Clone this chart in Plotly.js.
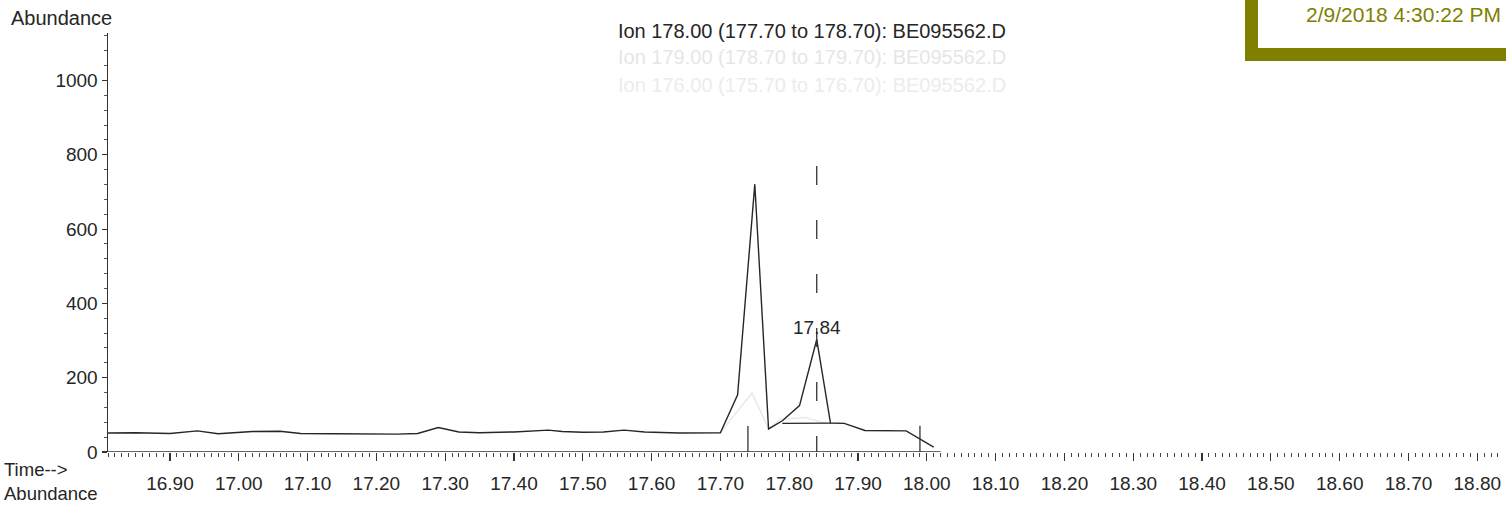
<!DOCTYPE html>
<html>
<head>
<meta charset="utf-8">
<script src="https://cdn.plot.ly/plotly-3.0.1.min.js"></script>
<style>
html,body{margin:0;padding:0;background:#fff;overflow:hidden;width:1506px;height:506px}
#chart{position:absolute;left:0;top:0;width:1506px;height:506px}
#stampBox{position:absolute;left:1245px;top:-20px;width:280px;height:68px;border-left:13px solid #808000;border-bottom:13px solid #808000;background:#fff}
#stampText{position:absolute;left:1306px;top:4px;font-family:"Liberation Sans",Arial,sans-serif;font-size:21px;line-height:22px;color:#808000;white-space:nowrap}
</style>
</head>
<body>
<div id="chart"></div>
<div id="stampBox"></div>
<div id="stampText">2/9/2018 4:30:22 PM</div>
<script>
// Ion 178 chromatogram (time in min, abundance)
const timeMin = [16.81, 16.85, 16.90, 16.94, 16.97, 17.02, 17.06, 17.09, 17.14, 17.19, 17.23, 17.26, 17.29, 17.32, 17.35, 17.40, 17.45, 17.47, 17.50, 17.53, 17.56, 17.59, 17.64, 17.70, 17.725, 17.75, 17.77, 17.79, 17.815, 17.84, 17.86, 17.88, 17.91, 17.97, 18.01];
const abundance = [51, 52, 50, 57, 49, 55, 56, 50, 49, 48, 48, 50, 66, 54, 52, 54, 59, 55, 53, 54, 59, 54, 51, 52, 154, 721, 62, 84, 125, 303, 78, 77, 58, 57, 13];

// faint overlaid ion (179) near the peaks
const ghostTime = [17.70, 17.746, 17.77, 17.787, 17.823, 17.855];
const ghostAbund = [52, 159, 62, 88, 93, 76];

// integration baseline under peak at 17.84
const baseTime = [17.79, 17.86];
const baseAbund = [77, 78];

// integration event ticks and retention-time marker
const eventTimes = [17.74, 17.99];
const eventTops = [70, 71];
const rtTime = 17.84;
const rtTop = 770;
const rtLabel = "17.84";
const axisLineEnd = 18.02;

const titleMain = "Ion 178.00 (177.70 to 178.70): BE095562.D";
const titleGhost = ["Ion 179.00 (178.70 to 179.70): BE095562.D", "Ion 176.00 (175.70 to 176.70): BE095562.D"];

const FONT = '"Liberation Sans", Arial, sans-serif';
const INK = '#262626';

const traces = [
  {x: ghostTime, y: ghostAbund, mode: 'lines', line: {color: '#e8e8e8', width: 1.4}, hoverinfo: 'skip'},
  {x: timeMin, y: abundance, mode: 'lines', line: {color: INK, width: 1.4}},
  {x: baseTime, y: baseAbund, mode: 'lines', line: {color: INK, width: 1.2}}
];

const shapes = [
  {type: 'line', xref: 'x', yref: 'y', x0: timeMin[0], x1: axisLineEnd, y0: 0, y1: 0, line: {color: '#333', width: 1.5}},
  {type: 'line', xref: 'x', yref: 'y', x0: rtTime, x1: rtTime, y0: rtTop, y1: 0, line: {color: '#333', width: 1.3, dash: '19px,35px'}}
];
eventTimes.forEach((t, i) => shapes.push({type: 'line', xref: 'x', yref: 'y', x0: t, x1: t, y0: 0, y1: eventTops[i], line: {color: '#333', width: 1.3}}));

const annotations = [
  {text: rtLabel, x: rtTime, y: abundance[timeMin.indexOf(rtTime)], xref: 'x', yref: 'y', showarrow: false, yanchor: 'middle', yshift: 12, font: {family: FONT, size: 19, color: INK}},
  {text: 'Abundance', xref: 'paper', yref: 'paper', x: -0.0711, y: 1.0358, xanchor: 'left', yanchor: 'middle', showarrow: false, font: {family: FONT, size: 20, color: INK}},
  {text: 'Time--><br>Abundance', align: 'left', borderpad: 0, xref: 'paper', yref: 'paper', x: -0.0754, y: -0.1265, xanchor: 'left', yanchor: 'bottom', showarrow: false, font: {family: FONT, size: 18.5, color: INK}},
  {text: titleGhost[0], xref: 'paper', yref: 'paper', x: 0.5057, y: 0.9427, xanchor: 'center', yanchor: 'middle', showarrow: false, font: {family: FONT, size: 20, color: '#e6e6e6'}},
  {text: titleGhost[1], xref: 'paper', yref: 'paper', x: 0.5057, y: 0.8759, xanchor: 'center', yanchor: 'middle', showarrow: false, font: {family: FONT, size: 20, color: '#ececec'}}
];

const layout = {
  width: 1506, height: 506,
  margin: {l: 108, r: 6, t: 33, b: 54, pad: 0},
  paper_bgcolor: '#fff', plot_bgcolor: '#fff',
  showlegend: false,
  font: {family: FONT, color: INK},
  title: {text: titleMain, font: {family: FONT, size: 20, color: INK}, xref: 'paper', x: 0.5057, xanchor: 'center', yref: 'container', y: 1 - 31/506, yanchor: 'middle'},
  xaxis: {
    range: [16.81, 18.833], showgrid: false, zeroline: false, showline: false,
    tick0: 16.9, dtick: 0.1, tickformat: '.2f',
    ticks: 'outside', ticklen: 8, tickwidth: 1.2, tickcolor: '#333',
    ticklabelstandoff: 6,
    tickfont: {family: FONT, size: 19, color: INK},
    minor: {dtick: 0.01, tick0: 16.9, ticks: 'outside', ticklen: 4, tickwidth: 1, tickcolor: '#444', showgrid: false}
  },
  yaxis: {
    range: [0, 1128], showgrid: false, zeroline: false,
    showline: true, linecolor: '#333', linewidth: 1.5,
    tick0: 0, dtick: 200,
    ticks: 'outside', ticklen: 5, tickwidth: 1.2, tickcolor: '#333',
    tickfont: {family: FONT, size: 19, color: INK},
    minor: {dtick: 40, ticks: 'outside', ticklen: 3, tickwidth: 1, tickcolor: '#555', showgrid: false}
  },
  shapes: shapes,
  annotations: annotations
};

Plotly.newPlot('chart', traces, layout, {staticPlot: true, displayModeBar: false});
</script>
</body>
</html>
